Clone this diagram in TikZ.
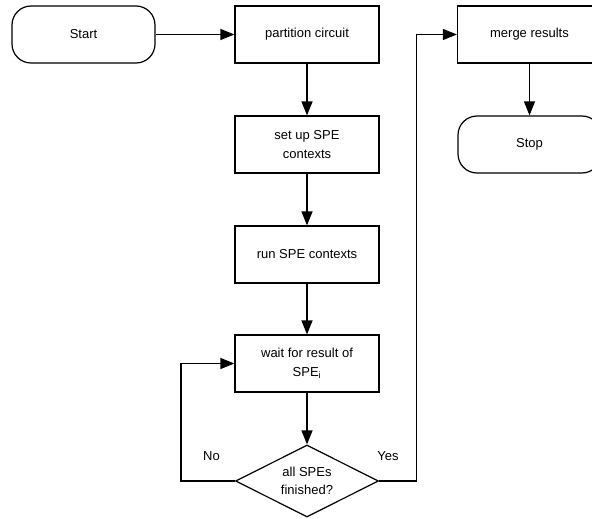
\documentclass[tikz,border=0pt]{standalone}
\usepackage{fontspec}
\setmainfont{Liberation Sans}
\usetikzlibrary{shapes.geometric,arrows.meta}
\begin{document}
\begin{tikzpicture}[x=1pt,y=-1pt,
  every node/.style={font=\fontsize{13}{18.5}\selectfont},
  flowline/.style={line width=1.2pt},
  flowarrow/.style={flowline,-{Triangle[length=14pt,width=11pt]}},
  procbox/.style={draw,line width=1.2pt,minimum width=144pt,minimum height=57pt,
    align=center,inner sep=2pt},
  termbox/.style={draw,line width=1.2pt,minimum width=143pt,minimum height=57pt,
    rounded corners=19pt,inner sep=2pt},
  decbox/.style={draw,line width=1.2pt,shape=diamond,aspect=2,inner sep=0pt,
    minimum width=143pt,minimum height=72pt,align=center},
  lbl/.style={inner sep=0pt}]
\clip (0,0) rectangle (592,519);
\useasboundingbox (0,0) rectangle (592,519);

% process steps
\node[termbox] (start) at (83.5,34.5) {Start};
\node[procbox] (part)  at (307,34.5)  {partition circuit};
\node[procbox] (setup) at (307,144.5) {set up SPE\\contexts};
\node[procbox] (run)   at (307,254.5) {run SPE contexts};
\node[procbox] (wait)  at (307,363.5) {wait for result of\\SPE\textsubscript{i}};
\node[decbox]  (dec)   at (307,481)   {all SPEs\\finished?};
\node[procbox] (merge) at (529.5,34.5) {merge results};
\node[termbox] (stop)  at (529.5,144.5) {Stop};

% main flow
\draw[flowarrow] (start.east) -- (part.west);
\draw[flowarrow] (part.south) -- (setup.north);
\draw[flowarrow] (setup.south) -- (run.north);
\draw[flowarrow] (run.south) -- (wait.north);
\draw[flowarrow] (wait.south) -- (dec.north);
\draw[flowarrow] (merge.south) -- (stop.north);

% branches of the decision
\coordinate (noturn)  at (181,481);
\coordinate (yesturn) at (416.5,481);
\draw[flowarrow] (dec.west) -- (noturn) |- (wait.west);
\draw[flowarrow] (dec.east) -- (yesturn) |- (merge.west);

\node[lbl] (nolbl)  at (211.5,456) {No};
\node[lbl] (yeslbl) at (388,456) {Yes};
\end{tikzpicture}
\end{document}
